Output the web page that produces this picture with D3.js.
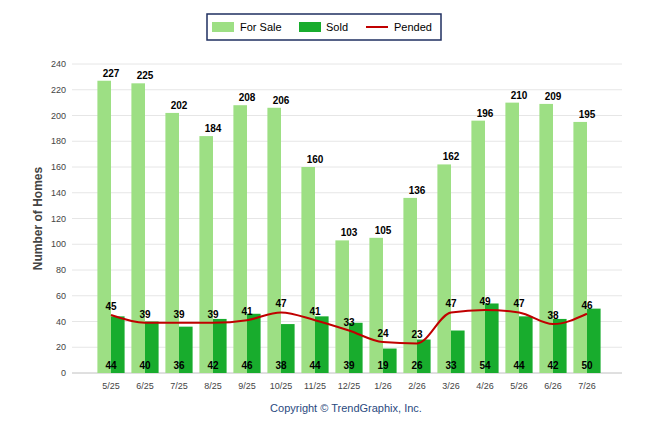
<!DOCTYPE html>
<html><head><meta charset="utf-8">
<script src="https://cdn.jsdelivr.net/npm/d3@7"></script>
<style>body{margin:0;background:#fff;font-family:Arial,"Liberation Sans",sans-serif}</style>
</head><body><svg id="c" width="646" height="434"></svg>
<script>
const months = ['5/25','6/25','7/25','8/25','9/25','10/25','11/25','12/25','1/26','2/26','3/26','4/26','5/26','6/26','7/26'];
const forSale = [227,225,202,184,208,206,160,103,105,136,162,196,210,209,195];
const sold = [44,40,36,42,46,38,44,39,19,26,33,54,44,42,50];
const pended = [45,39,39,39,41,47,41,33,24,23,47,49,47,38,46];
const yTicks = d3.range(0, 241, 20);

const svg = d3.select('#c');
const m = {l: 72, r: 622, t: 64, b: 373};
const x = d3.scaleBand().domain(months).range([90.6, 607.4]).padding(0.2);
const y = d3.scaleLinear().domain([0, 240]).range([m.b, m.t]);
const bw = x.bandwidth() / 2;

// gridlines
svg.append('g').selectAll('line').data(yTicks).enter().append('line')
    .attr('x1', m.l).attr('x2', m.r).attr('y1', d => y(d)).attr('y2', d => y(d))
    .attr('stroke', '#e6e6e6');

svg.append('g').selectAll('text').data(yTicks).enter().append('text')
    .attr('x', m.l - 6).attr('y', d => y(d) + 3).attr('text-anchor', 'end')
    .attr('font-size', 9).attr('fill', '#444').text(d => d);

svg.append('line').attr('x1', m.l).attr('x2', m.r).attr('y1', m.b).attr('y2', m.b).attr('stroke', '#ccc');

svg.append('text').attr('transform', `translate(42,${(m.t + m.b) / 2}) rotate(-90)`)
    .attr('text-anchor', 'middle').attr('font-size', 12).attr('font-weight', 'bold')
    .attr('fill', '#444').text('Number of Homes');

// bars
svg.append('g').selectAll('rect').data(months).enter().append('rect')
    .attr('x', d => x(d)).attr('width', bw)
    .attr('y', (d, i) => y(forSale[i])).attr('height', (d, i) => m.b - y(forSale[i]))
    .attr('fill', '#9ddf84');
svg.append('g').selectAll('rect').data(months).enter().append('rect')
    .attr('x', d => x(d) + bw).attr('width', bw)
    .attr('y', (d, i) => y(sold[i])).attr('height', (d, i) => m.b - y(sold[i]))
    .attr('fill', '#18ac2d');

// line
const cx = d => x(d) + x.bandwidth() / 2;
svg.append('path').datum(months)
    .attr('d', d3.line().x(cx).y((d, i) => y(pended[i])).curve(d3.curveMonotoneX))
    .attr('fill', 'none').attr('stroke', '#c00000').attr('stroke-width', 2);

// labels
const lab = (vals, yf) => svg.append('g').selectAll('text').data(months).enter().append('text')
    .attr('x', cx).attr('y', (d, i) => yf(vals[i])).attr('text-anchor', 'middle')
    .attr('font-size', 10).attr('font-weight', 'bold').attr('fill', '#000')
    .text((d, i) => vals[i]);
lab(forSale, v => y(v) - 4);
lab(pended, v => y(v) - 5);
lab(sold, () => m.b - 4);

svg.append('g').selectAll('text').data(months).enter().append('text')
    .attr('x', cx).attr('y', m.b + 16).attr('text-anchor', 'middle')
    .attr('font-size', 9).attr('fill', '#444').text(d => d);

svg.append('text').attr('x', 346).attr('y', 412).attr('text-anchor', 'middle')
    .attr('font-size', 11).attr('fill', '#2a4a80').text('Copyright © TrendGraphix, Inc.');

// legend
const lg = svg.append('g');
lg.append('rect').attr('x', 207).attr('y', 14).attr('width', 234).attr('height', 26)
    .attr('fill', '#fff').attr('stroke', '#1f2f60').attr('stroke-width', 1.5);
lg.append('rect').attr('x', 212).attr('y', 22).attr('width', 22).attr('height', 10).attr('fill', '#9ddf84');
lg.append('text').attr('x', 240).attr('y', 31).attr('font-size', 11).text('For Sale');
lg.append('rect').attr('x', 299).attr('y', 22).attr('width', 22).attr('height', 10).attr('fill', '#18ac2d');
lg.append('text').attr('x', 326).attr('y', 31).attr('font-size', 11).text('Sold');
lg.append('line').attr('x1', 366).attr('x2', 388).attr('y1', 27).attr('y2', 27).attr('stroke', '#c00000').attr('stroke-width', 2);
lg.append('text').attr('x', 394).attr('y', 31).attr('font-size', 11).text('Pended');
</script></body></html>
